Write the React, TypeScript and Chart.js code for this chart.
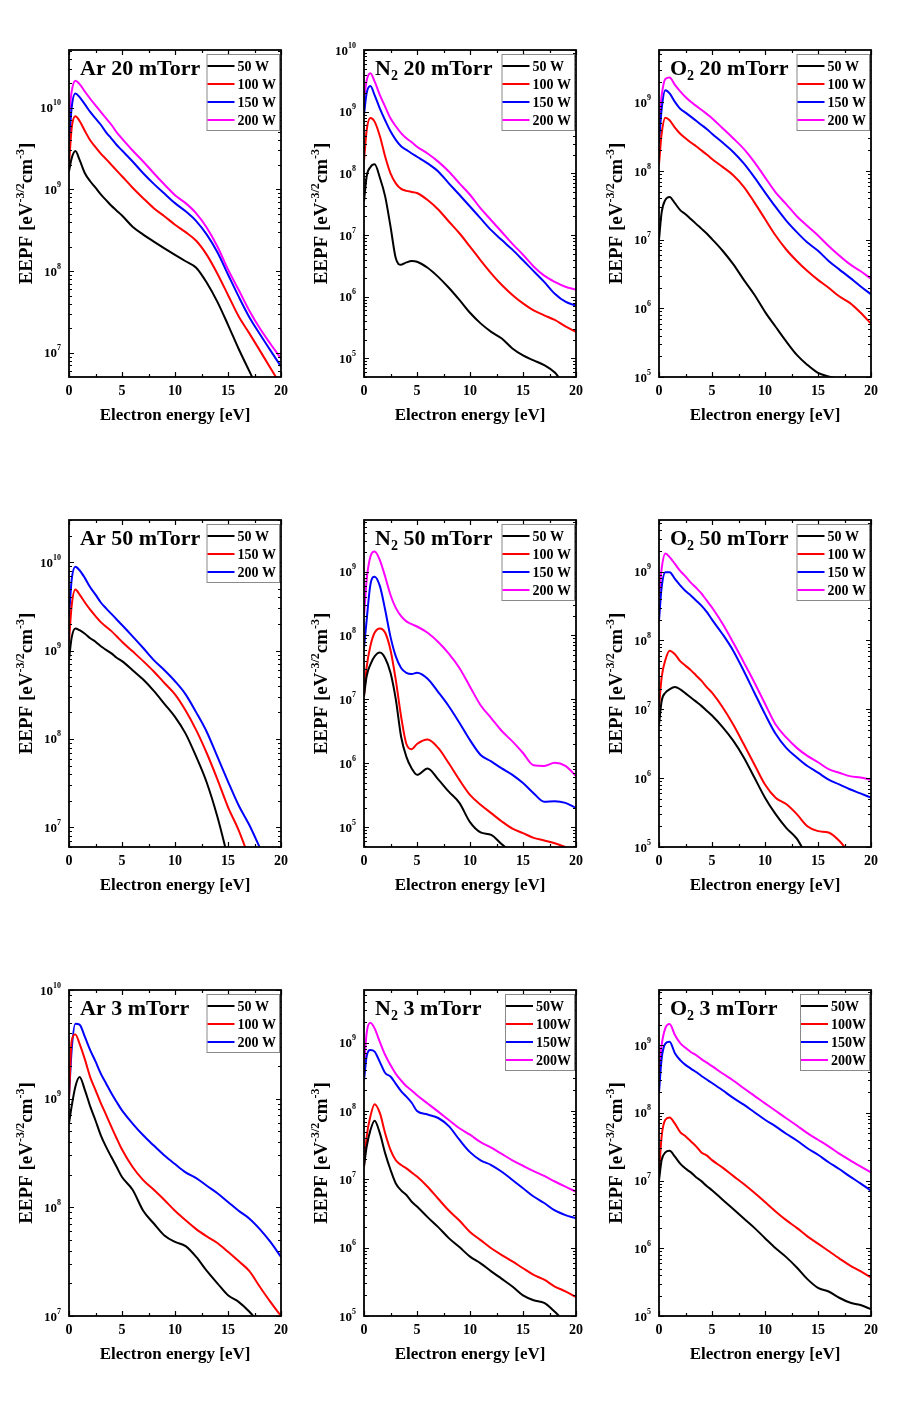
import React, { useEffect, useRef } from 'react';
import { Chart, registerables } from 'chart.js';

Chart.register(...registerables);

// ---------- shared axis data ----------
const ENERGY = [0, 0.25, 0.6, 1, 1.5, 2, 2.5, 3, 3.5, 4, 4.5, 5, 6, 7, 8, 9, 10, 11, 12, 13, 14, 15, 16, 17, 18, 19, 20];
const X_TICKS = [0, 5, 10, 15, 20];
const X_MINOR_STEP = 2.5;
const X_TITLE = 'Electron energy [eV]';

// ---------- Ar 20 mTorr ----------
const AR20_50W = [1.66e9, 2.4e9, 2.95e9, 2.3e9, 1.58e9, 1.26e9, 1.05e9, 8.7e8, 7.4e8, 6.3e8, 5.5e8, 4.8e8, 3.5e8, 2.8e8, 2.3e8, 1.9e8, 1.58e8, 1.32e8, 1.1e8, 7.2e7, 4.2e7, 2.2e7, 1.12e7, 6.0e6, 3.2e6, null, null];
const AR20_100W = [2.0e9, 5.6e9, 7.9e9, 6.9e9, 5.2e9, 4.0e9, 3.3e9, 2.75e9, 2.35e9, 2.0e9, 1.7e9, 1.45e9, 1.05e9, 7.8e8, 5.9e8, 4.7e8, 3.7e8, 3.0e8, 2.35e8, 1.58e8, 9.3e7, 5.1e7, 2.8e7, 1.74e7, 1.07e7, 6.5e6, 4.0e6];
const AR20_150W = [3.6e9, 1.0e10, 1.5e10, 1.35e10, 1.1e10, 8.9e9, 7.4e9, 6.2e9, 5.0e9, 4.2e9, 3.5e9, 3.0e9, 2.2e9, 1.58e9, 1.17e9, 8.9e8, 6.8e8, 5.4e8, 4.1e8, 2.8e8, 1.7e8, 9.1e7, 4.9e7, 2.75e7, 1.7e7, 1.07e7, 6.8e6];
const AR20_200W = [7.8e9, 1.58e10, 2.15e10, 1.95e10, 1.58e10, 1.29e10, 1.07e10, 8.9e9, 7.4e9, 6.2e9, 5.0e9, 4.2e9, 3.0e9, 2.2e9, 1.58e9, 1.15e9, 8.5e8, 6.8e8, 5.1e8, 3.4e8, 2.0e8, 1.05e8, 5.9e7, 3.3e7, 2.0e7, 1.29e7, 8.5e6];

// ---------- N2 20 mTorr ----------
const N220_50W = [3.5e7, 8.9e7, 1.26e8, 1.4e8, 8.5e7, 4.2e7, 1.38e7, 4.2e6, 3.3e6, 3.6e6, 3.8e6, 3.7e6, 2.95e6, 2.1e6, 1.4e6, 8.9e5, 5.5e5, 3.7e5, 2.7e5, 2.1e5, 1.45e5, 1.12e5, 9.3e4, 7.8e4, 5.9e4, 3.5e4, null];
const N220_100W = [1.6e8, 5.0e8, 7.9e8, 6.9e8, 4.0e8, 1.86e8, 1.0e8, 6.9e7, 5.6e7, 5.2e7, 5.0e7, 4.8e7, 3.7e7, 2.6e7, 1.66e7, 1.07e7, 6.5e6, 3.9e6, 2.4e6, 1.55e6, 1.07e6, 7.8e5, 6.0e5, 5.0e5, 4.2e5, 3.3e5, 2.7e5];
const N220_150W = [8.9e8, 2.0e9, 2.6e9, 1.86e9, 1.12e9, 7.2e8, 4.8e8, 3.5e8, 2.75e8, 2.4e8, 2.1e8, 1.86e8, 1.45e8, 1.07e8, 6.9e7, 4.5e7, 2.9e7, 1.86e7, 1.2e7, 8.3e6, 5.8e6, 3.9e6, 2.6e6, 1.74e6, 1.12e6, 8.3e5, 7.2e5];
const N220_200W = [1.58e9, 3.2e9, 4.2e9, 3.1e9, 1.86e9, 1.2e9, 7.8e8, 5.8e8, 4.5e8, 3.7e8, 3.2e8, 2.7e8, 2.1e8, 1.55e8, 1.07e8, 6.9e7, 4.5e7, 2.7e7, 1.74e7, 1.12e7, 7.2e6, 4.8e6, 3.1e6, 2.2e6, 1.74e6, 1.45e6, 1.3e6];

// ---------- O2 20 mTorr ----------
const O220_50W = [1.0e7, 2.5e7, 3.8e7, 4.2e7, 3.4e7, 2.7e7, 2.35e7, 2.0e7, 1.7e7, 1.45e7, 1.23e7, 1.02e7, 6.9e6, 4.4e6, 2.6e6, 1.58e6, 8.9e5, 5.4e5, 3.3e5, 2.1e5, 1.5e5, 1.15e5, 1.02e5, 9.3e4, null, null, null];
const O220_100W = [1.26e8, 3.5e8, 6.0e8, 5.5e8, 4.3e8, 3.5e8, 3.0e8, 2.6e8, 2.3e8, 2.0e8, 1.74e8, 1.5e8, 1.15e8, 8.7e7, 5.9e7, 3.5e7, 2.0e7, 1.15e7, 7.2e6, 4.9e6, 3.5e6, 2.6e6, 2.0e6, 1.5e6, 1.2e6, 8.7e5, 6.0e5];
const O220_150W = [2.5e8, 7.9e8, 1.5e9, 1.35e9, 1.02e9, 8.1e8, 7.1e8, 6.2e8, 5.4e8, 4.7e8, 4.1e8, 3.5e8, 2.6e8, 1.9e8, 1.29e8, 8.1e7, 4.9e7, 3.0e7, 1.9e7, 1.29e7, 9.1e6, 6.9e6, 4.9e6, 3.7e6, 2.8e6, 2.1e6, 1.6e6];
const O220_200W = [5.0e8, 1.26e9, 2.2e9, 2.3e9, 1.8e9, 1.45e9, 1.2e9, 1.02e9, 8.9e8, 7.8e8, 6.8e8, 5.9e8, 4.2e8, 3.0e8, 2.1e8, 1.35e8, 8.1e7, 4.9e7, 3.3e7, 2.2e7, 1.58e7, 1.15e7, 8.1e6, 5.9e6, 4.4e6, 3.5e6, 2.7e6];

// ---------- Ar 50 mTorr ----------
const AR50_50W = [7.9e8, 1.4e9, 1.78e9, 1.7e9, 1.55e9, 1.38e9, 1.26e9, 1.12e9, 1.02e9, 9.3e8, 8.3e8, 7.6e8, 6.0e8, 4.7e8, 3.5e8, 2.5e8, 1.78e8, 1.15e8, 6.3e7, 3.2e7, 1.32e7, 4.5e6, null, null, null, null, null];
const AR50_150W = [1.26e9, 3.2e9, 4.9e9, 4.3e9, 3.5e9, 2.9e9, 2.45e9, 2.1e9, 1.86e9, 1.66e9, 1.45e9, 1.26e9, 9.8e8, 7.6e8, 5.8e8, 4.3e8, 3.2e8, 2.1e8, 1.26e8, 6.9e7, 3.5e7, 1.7e7, 9.3e6, 4.5e6, null, null, null];
const AR50_200W = [2.4e9, 6.3e9, 8.9e9, 8.1e9, 6.6e9, 5.2e9, 4.3e9, 3.5e9, 3.0e9, 2.6e9, 2.25e9, 1.95e9, 1.45e9, 1.07e9, 7.8e8, 6.0e8, 4.5e8, 3.2e8, 2.0e8, 1.2e8, 6.3e7, 3.3e7, 1.78e7, 1.07e7, 5.9e6, 3.2e6, null];

// ---------- N2 50 mTorr ----------
const N250_50W = [1.12e7, 2.3e7, 3.5e7, 4.7e7, 5.4e7, 4.4e7, 2.6e7, 1.0e7, 2.6e6, 1.26e6, 8.3e5, 6.6e5, 8.3e5, 5.6e5, 3.6e5, 2.4e5, 1.2e5, 8.3e4, 7.6e4, 5.4e4, 4.0e4, null, null, null, null, null, null];
const N250_100W = [1.12e7, 3.2e7, 6.8e7, 1.1e8, 1.29e8, 1.1e8, 5.9e7, 2.0e7, 5.4e6, 2.0e6, 1.66e6, 2.0e6, 2.35e6, 1.74e6, 1.0e6, 5.5e5, 3.2e5, 2.25e5, 1.66e5, 1.23e5, 9.5e4, 8.1e4, 6.8e4, 6.2e4, 5.6e4, 4.9e4, null];
const N250_150W = [6.3e7, 1.74e8, 6.2e8, 8.3e8, 5.9e8, 2.5e8, 9.5e7, 4.7e7, 3.1e7, 2.6e7, 2.5e7, 2.6e7, 2.1e7, 1.3e7, 7.8e6, 4.3e6, 2.3e6, 1.35e6, 1.07e6, 8.3e5, 6.6e5, 4.9e5, 3.4e5, 2.5e5, 2.55e5, 2.4e5, 2.0e5];
const N250_200W = [2.0e8, 7.4e8, 1.7e9, 2.05e9, 1.5e9, 8.3e8, 4.3e8, 2.7e8, 2.0e8, 1.66e8, 1.5e8, 1.38e8, 1.1e8, 7.9e7, 5.2e7, 3.1e7, 1.58e7, 8.1e6, 5.1e6, 3.2e6, 2.2e6, 1.45e6, 9.3e5, 9.1e5, 1.02e6, 9.1e5, 6.3e5];

// ---------- O2 50 mTorr ----------
const O250_50W = [6.0e6, 1.32e7, 1.74e7, 1.95e7, 2.1e7, 1.95e7, 1.7e7, 1.48e7, 1.29e7, 1.12e7, 9.5e6, 8.1e6, 5.5e6, 3.5e6, 2.0e6, 1.02e6, 5.2e5, 3.0e5, 1.9e5, 1.32e5, 7.1e4, null, null, null, null, null, null];
const O250_100W = [1.07e7, 2.9e7, 5.2e7, 7.1e7, 6.3e7, 5.0e7, 4.3e7, 3.7e7, 3.1e7, 2.6e7, 2.1e7, 1.74e7, 1.07e7, 6.0e6, 3.1e6, 1.58e6, 8.1e5, 5.2e5, 4.2e5, 3.0e5, 2.0e5, 1.7e5, 1.62e5, 1.23e5, 8.0e4, null, null];
const O250_150W = [1.95e8, 5.9e8, 9.8e8, 9.8e8, 7.8e8, 6.3e8, 5.2e8, 4.5e8, 3.8e8, 3.2e8, 2.6e8, 2.0e8, 1.23e8, 7.1e7, 3.6e7, 1.74e7, 8.5e6, 4.4e6, 2.75e6, 2.0e6, 1.5e6, 1.2e6, 9.5e5, 8.1e5, 6.9e5, 6.0e5, 5.2e5];
const O250_200W = [4.3e8, 1.1e9, 1.82e9, 1.62e9, 1.29e9, 1.02e9, 8.5e8, 6.9e8, 5.8e8, 4.8e8, 3.8e8, 3.0e8, 1.74e8, 9.3e7, 4.8e7, 2.45e7, 1.2e7, 6.0e6, 3.9e6, 2.75e6, 2.1e6, 1.7e6, 1.35e6, 1.2e6, 1.07e6, 1.02e6, 9.5e5];

// ---------- Ar 3 mTorr ----------
const AR3_50W = [5.9e8, 8.5e8, 1.29e9, 1.58e9, 1.2e9, 8.5e8, 6.3e8, 4.6e8, 3.6e8, 2.9e8, 2.35e8, 1.9e8, 1.45e8, 9.3e7, 7.1e7, 5.5e7, 4.8e7, 4.4e7, 3.5e7, 2.6e7, 2.0e7, 1.55e7, 1.35e7, 1.1e7, 8.5e6, null, null];
const AR3_100W = [1.0e9, 3.4e9, 3.9e9, 3.2e9, 2.3e9, 1.58e9, 1.2e9, 9.1e8, 7.1e8, 5.5e8, 4.3e8, 3.4e8, 2.35e8, 1.78e8, 1.45e8, 1.17e8, 9.3e7, 7.6e7, 6.3e7, 5.4e7, 4.7e7, 3.9e7, 3.2e7, 2.6e7, 1.86e7, 1.35e7, 1.0e7];
const AR3_200W = [1.05e9, 2.8e9, 4.9e9, 4.8e9, 3.7e9, 2.8e9, 2.2e9, 1.7e9, 1.38e9, 1.12e9, 9.3e8, 7.8e8, 5.9e8, 4.6e8, 3.7e8, 3.0e8, 2.5e8, 2.1e8, 1.86e8, 1.58e8, 1.35e8, 1.12e8, 9.3e7, 7.9e7, 6.3e7, 4.8e7, 3.5e7];

// ---------- N2 3 mTorr ----------
const N23_50W = [1.55e7, 3.0e7, 5.2e7, 7.2e7, 4.7e7, 2.4e7, 1.38e7, 8.7e6, 6.9e6, 5.9e6, 4.7e6, 4.0e6, 2.8e6, 2.0e6, 1.38e6, 1.02e6, 7.4e5, 5.9e5, 4.5e5, 3.5e5, 2.7e5, 2.0e5, 1.7e5, 1.55e5, 1.15e5, 8.0e4, null];
const N23_100W = [1.55e7, 4.2e7, 8.3e7, 1.26e8, 9.3e7, 4.7e7, 2.7e7, 1.9e7, 1.62e7, 1.45e7, 1.26e7, 1.1e7, 7.8e6, 5.2e6, 3.5e6, 2.5e6, 1.7e6, 1.29e6, 9.8e5, 7.8e5, 6.3e5, 5.0e5, 4.0e5, 3.4e5, 2.7e5, 2.3e5, 1.9e5];
const N23_150W = [2.8e8, 6.3e8, 7.8e8, 7.4e8, 5.2e8, 3.6e8, 3.2e8, 2.5e8, 1.95e8, 1.62e8, 1.32e8, 1.0e8, 8.9e7, 7.9e7, 6.0e7, 3.8e7, 2.5e7, 1.9e7, 1.62e7, 1.29e7, 9.8e6, 7.4e6, 5.6e6, 4.5e6, 3.5e6, 3.0e6, 2.7e6];
const N23_200W = [4.5e8, 1.38e9, 1.95e9, 1.62e9, 1.02e9, 6.6e8, 4.7e8, 3.5e8, 2.8e8, 2.3e8, 2.0e8, 1.7e8, 1.29e8, 9.8e7, 7.4e7, 5.6e7, 4.5e7, 3.5e7, 2.9e7, 2.35e7, 1.9e7, 1.58e7, 1.32e7, 1.12e7, 9.3e6, 7.8e6, 6.6e6];

// ---------- O2 3 mTorr ----------
const O23_50W = [1.0e7, 2.0e7, 2.6e7, 2.75e7, 2.25e7, 1.78e7, 1.5e7, 1.32e7, 1.12e7, 9.8e6, 8.3e6, 7.2e6, 5.2e6, 3.8e6, 2.75e6, 2.0e6, 1.41e6, 1.0e6, 7.4e5, 5.2e5, 3.5e5, 2.6e5, 2.3e5, 1.86e5, 1.58e5, 1.45e5, 1.26e5];
const O23_100W = [1.26e7, 4.5e7, 7.9e7, 8.5e7, 6.9e7, 5.2e7, 4.5e7, 3.8e7, 3.2e7, 2.6e7, 2.35e7, 2.0e7, 1.55e7, 1.17e7, 8.9e6, 6.6e6, 4.8e6, 3.5e6, 2.6e6, 2.0e6, 1.5e6, 1.17e6, 9.1e5, 7.1e5, 5.6e5, 4.6e5, 3.7e5];
const O23_150W = [2.0e8, 6.3e8, 1.05e9, 1.12e9, 7.6e8, 6.0e8, 5.1e8, 4.5e8, 4.0e8, 3.5e8, 3.1e8, 2.75e8, 2.15e8, 1.66e8, 1.32e8, 1.02e8, 7.9e7, 6.3e7, 4.9e7, 3.9e7, 3.0e7, 2.4e7, 1.86e7, 1.48e7, 1.15e7, 9.1e6, 7.1e6];
const O23_200W = [4.0e8, 1.0e9, 1.78e9, 2.05e9, 1.41e9, 1.07e9, 9.1e8, 7.9e8, 7.1e8, 6.2e8, 5.5e8, 4.9e8, 3.8e8, 3.0e8, 2.3e8, 1.78e8, 1.38e8, 1.07e8, 8.3e7, 6.5e7, 5.0e7, 4.0e7, 3.2e7, 2.5e7, 2.0e7, 1.62e7, 1.32e7];

// ---------- styling ----------
const BLACK = '#000000';
const RED = '#ff0000';
const BLUE = '#0000ff';
const MAGENTA = '#ff00ff';
const FONT = "'Liberation Serif', 'Times New Roman', serif";

const COL_LEFT = [69, 364, 659];
const ROW_TOP = [50, 520, 990];
const ROW_H = [327, 327, 326];
const PLOT_W = 212;
const PAD_L = 69;
const PAD_T = 45;
const PAD_R = 12;
const PAD_B = 55;

type Series = { label: string; color: string; data: (number | null)[] };
type PanelCfg = {
  gas: string; sub: string; pressure: string;
  col: number; row: number; yMin: number; yMax: number;
  series: Series[];
};

const W4 = (a: any[], b: any[], c: any[], d: any[], sp = ' '): Series[] => [
  { label: `50${sp}W`, color: BLACK, data: a },
  { label: `100${sp}W`, color: RED, data: b },
  { label: `150${sp}W`, color: BLUE, data: c },
  { label: `200${sp}W`, color: MAGENTA, data: d },
];

const PANELS: PanelCfg[] = [
  { gas: 'Ar', sub: '', pressure: ' 20 mTorr', col: 0, row: 0, yMin: 5.05e6, yMax: 5.1e10, series: W4(AR20_50W, AR20_100W, AR20_150W, AR20_200W) },
  { gas: 'N', sub: '2', pressure: ' 20 mTorr', col: 1, row: 0, yMin: 5e4, yMax: 1e10, series: W4(N220_50W, N220_100W, N220_150W, N220_200W) },
  { gas: 'O', sub: '2', pressure: ' 20 mTorr', col: 2, row: 0, yMin: 1e5, yMax: 5.8e9, series: W4(O220_50W, O220_100W, O220_150W, O220_200W) },
  {
    gas: 'Ar', sub: '', pressure: ' 50 mTorr', col: 0, row: 1, yMin: 6e6, yMax: 3e10, series: [
      { label: '50 W', color: BLACK, data: AR50_50W },
      { label: '150 W', color: RED, data: AR50_150W },
      { label: '200 W', color: BLUE, data: AR50_200W },
    ]
  },
  { gas: 'N', sub: '2', pressure: ' 50 mTorr', col: 1, row: 1, yMin: 4.9e4, yMax: 6.4e9, series: W4(N250_50W, N250_100W, N250_150W, N250_200W) },
  { gas: 'O', sub: '2', pressure: ' 50 mTorr', col: 2, row: 1, yMin: 1e5, yMax: 5.6e9, series: W4(O250_50W, O250_100W, O250_150W, O250_200W) },
  {
    gas: 'Ar', sub: '', pressure: ' 3 mTorr', col: 0, row: 2, yMin: 1e7, yMax: 1e10, series: [
      { label: '50 W', color: BLACK, data: AR3_50W },
      { label: '100 W', color: RED, data: AR3_100W },
      { label: '200 W', color: BLUE, data: AR3_200W },
    ]
  },
  { gas: 'N', sub: '2', pressure: ' 3 mTorr', col: 1, row: 2, yMin: 1e5, yMax: 5.9e9, series: W4(N23_50W, N23_100W, N23_150W, N23_200W, '') },
  { gas: 'O', sub: '2', pressure: ' 3 mTorr', col: 2, row: 2, yMin: 1e5, yMax: 6.5e9, series: W4(O23_50W, O23_100W, O23_150W, O23_200W, '') },
];

type Part = { t: string; size: number; dy: number };

function partsWidth(ctx: CanvasRenderingContext2D, parts: Part[]) {
  let w = 0;
  for (const p of parts) {
    ctx.font = `bold ${p.size}px ${FONT}`;
    w += ctx.measureText(p.t).width;
  }
  return w;
}

function drawParts(ctx: CanvasRenderingContext2D, parts: Part[], x: number, y: number) {
  let cx = x;
  ctx.textAlign = 'left';
  ctx.textBaseline = 'alphabetic';
  for (const p of parts) {
    ctx.font = `bold ${p.size}px ${FONT}`;
    ctx.fillText(p.t, cx, y + p.dy);
    cx += ctx.measureText(p.t).width;
  }
}

function makeDecor(cfg: PanelCfg) {
  return {
    id: 'decor',
    afterDatasetsDraw(chart: any) {
      const ctx: CanvasRenderingContext2D = chart.ctx;
      const { left, right, top, bottom } = chart.chartArea;
      const xs = chart.scales.x;
      const ys = chart.scales.y;
      ctx.save();
      ctx.fillStyle = '#000';
      ctx.strokeStyle = '#000';

      // ticks (inward, mirrored)
      ctx.lineWidth = 1.2;
      ctx.beginPath();
      for (let v = 0; v <= 20 + 1e-9; v += X_MINOR_STEP) {
        const major = X_TICKS.includes(v);
        const len = major ? 5 : 3;
        const px = Math.round(xs.getPixelForValue(v)) + 0.5;
        ctx.moveTo(px, bottom); ctx.lineTo(px, bottom - len);
        ctx.moveTo(px, top); ctx.lineTo(px, top + len);
      }
      const dMin = Math.floor(Math.log10(cfg.yMin));
      const dMax = Math.ceil(Math.log10(cfg.yMax));
      const decades: number[] = [];
      for (let d = dMin; d <= dMax; d++) {
        for (let m = 1; m <= 9; m++) {
          const v = m * Math.pow(10, d);
          if (v < cfg.yMin * 0.999 || v > cfg.yMax * 1.001) continue;
          if (m === 1) decades.push(d);
          const len = m === 1 ? 5 : 3;
          const py = Math.round(ys.getPixelForValue(v)) + 0.5;
          ctx.moveTo(left, py); ctx.lineTo(left + len, py);
          ctx.moveTo(right, py); ctx.lineTo(right - len, py);
        }
      }
      ctx.stroke();

      // frame
      ctx.lineWidth = 1.8;
      ctx.strokeRect(left, top, right - left, bottom - top);

      // y tick labels
      for (const d of decades) {
        const py = ys.getPixelForValue(Math.pow(10, d));
        const parts: Part[] = [
          { t: '10', size: 13, dy: 0 },
          { t: String(d), size: 8, dy: -7 },
        ];
        const w = partsWidth(ctx, parts);
        drawParts(ctx, parts, left - 8 - w, py + 4.5);
      }

      // x tick labels
      ctx.font = `bold 14px ${FONT}`;
      ctx.textAlign = 'center';
      ctx.textBaseline = 'alphabetic';
      for (const v of X_TICKS) {
        ctx.fillText(String(v), xs.getPixelForValue(v), bottom + 18);
      }

      // x title
      ctx.font = `bold 17px ${FONT}`;
      ctx.fillText(X_TITLE, (left + right) / 2, bottom + 43);

      // y title (rotated)
      const yParts: Part[] = [
        { t: 'EEPF [eV', size: 19, dy: 0 },
        { t: '-3/2', size: 12, dy: -8 },
        { t: 'cm', size: 19, dy: 0 },
        { t: '-3', size: 12, dy: -8 },
        { t: ']', size: 19, dy: 0 },
      ];
      const yw = partsWidth(ctx, yParts);
      ctx.save();
      ctx.translate(left - 37, (top + bottom) / 2);
      ctx.rotate(-Math.PI / 2);
      drawParts(ctx, yParts, -yw / 2, 0);
      ctx.restore();

      // panel title
      const tParts: Part[] = [{ t: cfg.gas, size: 22, dy: 0 }];
      if (cfg.sub) tParts.push({ t: cfg.sub, size: 14, dy: 5 });
      tParts.push({ t: cfg.pressure, size: 22, dy: 0 });
      drawParts(ctx, tParts, left + 11, top + 25);

      // legend
      const n = chart.data.datasets.length;
      ctx.font = `bold 14px ${FONT}`;
      let tw = 0;
      for (const ds of chart.data.datasets) tw = Math.max(tw, ctx.measureText(ds.label).width);
      const lineLen = 27;
      const bw = lineLen + 3 + tw + 4;
      const bh = 12 + (n - 1) * 18 + 10;
      const bx = right - 2 - bw;
      const by = top + 4;
      ctx.fillStyle = '#fff';
      ctx.fillRect(bx, by, bw, bh);
      ctx.strokeStyle = '#8a8a8a';
      ctx.lineWidth = 1;
      ctx.strokeRect(bx + 0.5, by + 0.5, bw, bh);
      chart.data.datasets.forEach((ds: any, i: number) => {
        const ly = by + 12 + i * 18;
        ctx.strokeStyle = ds.borderColor;
        ctx.lineWidth = 2;
        ctx.beginPath();
        ctx.moveTo(bx + 1, ly);
        ctx.lineTo(bx + 1 + lineLen, ly);
        ctx.stroke();
        ctx.fillStyle = '#000';
        ctx.textAlign = 'left';
        ctx.textBaseline = 'middle';
        ctx.fillText(ds.label, bx + lineLen + 4, ly + 1);
      });
      ctx.restore();
    },
  };
}

function Panel({ cfg }: { cfg: PanelCfg }) {
  const ref = useRef<HTMLCanvasElement>(null);
  const plotH = ROW_H[cfg.row];
  const W = PAD_L + PLOT_W + PAD_R;
  const H = PAD_T + plotH + PAD_B;
  useEffect(() => {
    const canvas = ref.current;
    if (!canvas) return;
    const chart = new Chart(canvas, {
      type: 'line',
      data: {
        datasets: cfg.series.map((s) => ({
          label: s.label,
          data: ENERGY.map((x, i) => ({ x, y: s.data[i] })),
          borderColor: s.color,
          backgroundColor: s.color,
          borderWidth: 2,
          pointRadius: 0,
          cubicInterpolationMode: 'monotone' as const,
          fill: false,
          spanGaps: false,
        })),
      },
      options: {
        responsive: false,
        animation: false,
        devicePixelRatio: 1,
        events: [],
        layout: { padding: { left: PAD_L, top: PAD_T, right: PAD_R, bottom: PAD_B } },
        scales: {
          x: { type: 'linear', min: 0, max: 20, display: false },
          y: { type: 'logarithmic', min: cfg.yMin, max: cfg.yMax, display: false },
        },
        plugins: { legend: { display: false }, tooltip: { enabled: false } },
      },
      plugins: [makeDecor(cfg)],
    } as any);
    return () => chart.destroy();
  }, [cfg]);
  return (
    <canvas
      ref={ref}
      width={W}
      height={H}
      style={{
        position: 'absolute',
        left: COL_LEFT[cfg.col] - PAD_L,
        top: ROW_TOP[cfg.row] - PAD_T,
        width: W,
        height: H,
      }}
    />
  );
}

export default function App() {
  return (
    <div style={{ position: 'absolute', left: 0, top: 0, width: 922, height: 1403, background: '#fff', overflow: 'hidden' }}>
      {PANELS.map((p, i) => (
        <Panel key={i} cfg={p} />
      ))}
    </div>
  );
}
